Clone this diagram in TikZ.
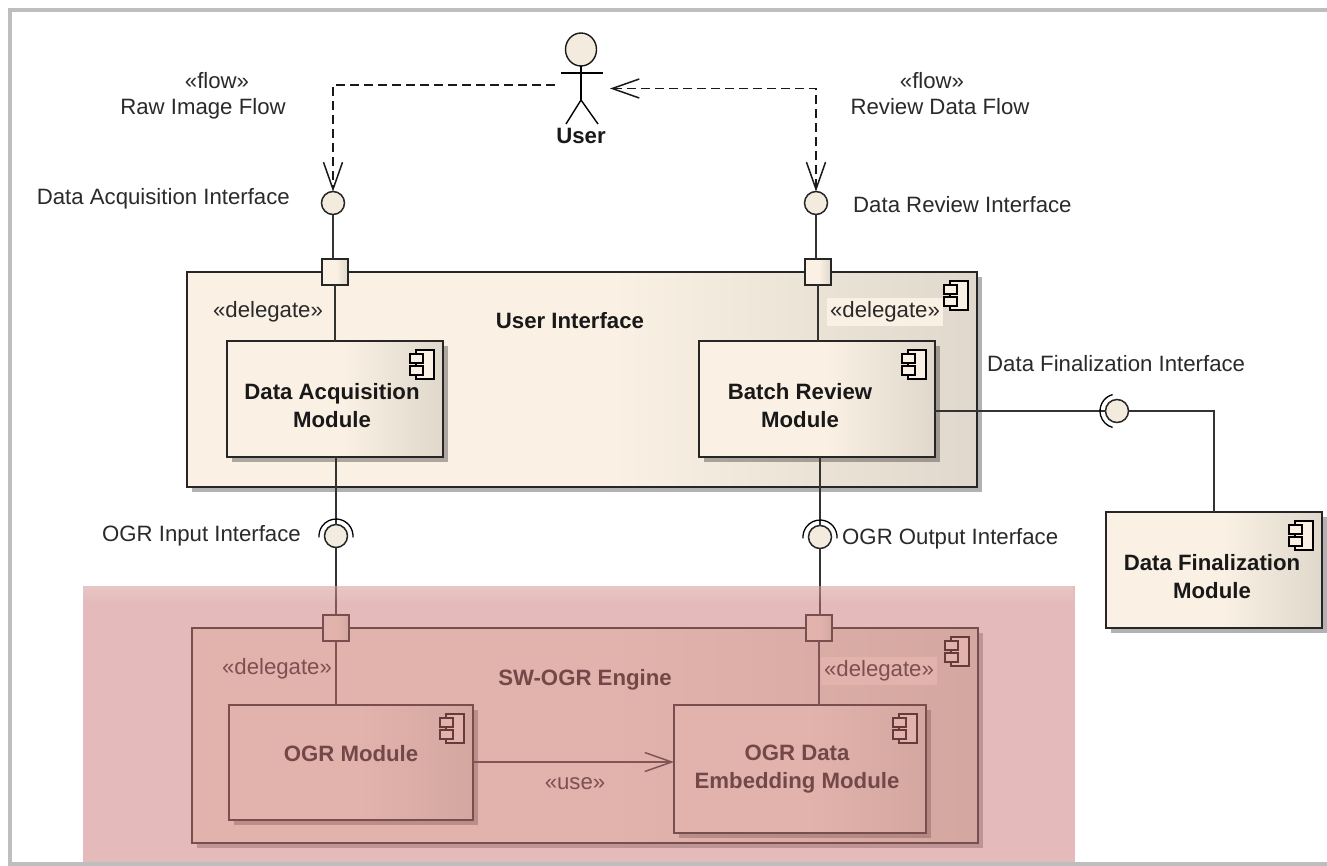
\documentclass[tikz,border=0pt]{standalone}
\usepackage{fontspec}
\setmainfont{Liberation Sans}
\usetikzlibrary{arrows.meta,shapes.geometric,shadows,fadings}
\definecolor{beige}{HTML}{FAF0E4}
\definecolor{beigedark}{HTML}{E0D8CC}
\definecolor{beigeface}{HTML}{F4EBDF}
\definecolor{inklabel}{HTML}{2A2A2A}
\definecolor{framegray}{HTML}{BEBEBE}
\definecolor{veilred}{HTML}{CB7777}
\pgfdeclarehorizontalshading{compshade}{100bp}{color(0bp)=(beige); color(52bp)=(beige); color(75bp)=(beigedark); color(100bp)=(beigedark)}
\tikzset{
  comp/.style={draw=black!85,line width=1.7pt,shading=compshade,inner sep=0pt,outer sep=0pt,
    drop shadow={shadow xshift=5pt,shadow yshift=-5pt,opacity=.3,fill=black}},
  port/.style={draw=black!85,line width=1.5pt,shading=compshade,minimum size=26pt,inner sep=0pt,outer sep=0pt},
  iface/.style={circle,draw=black!85,line width=1.5pt,fill=beigeface,minimum size=23pt,inner sep=0pt,outer sep=0pt},
  lbl/.style={font=\fontsize{22.2}{26}\selectfont,text=inklabel,inner sep=0pt},
  title/.style={font=\fontsize{22.2}{28}\selectfont\bfseries,text=black!90,align=center,inner sep=0pt},
  conn/.style={line width=1.5pt,draw=black!80},
  flowline/.style={line width=1.7pt,draw=black!90,dash pattern=on 9pt off 5pt},
  opentip/.style={-{Straight Barb[length=27pt,width=19pt,line width=1.5pt]}},
  bothtips/.style={{Straight Barb[length=27pt,width=19pt,line width=1.5pt]}-{Straight Barb[length=27pt,width=19pt,line width=1.5pt]}}
}
\begin{document}
\begin{tikzpicture}[x=1pt,y=-1pt]
    \useasboundingbox (0,0) rectangle (1327,865);
    \fill[white] (0,0) rectangle (1327,865);
    \draw[framegray,line width=3.2pt] (1327,10) -- (10,10) -- (10,864) -- (1327,864);

    % containers and modules
    \node[comp,minimum width=790pt,minimum height=215pt] (userif) at (582,379.5) {};
    \node[comp,minimum width=216pt,minimum height=116pt] (acqmodule) at (335,399) {};
    \node[comp,minimum width=236pt,minimum height=116pt] (reviewmodule) at (817,399) {};
    \node[comp,minimum width=216pt,minimum height=116pt] (finmodule) at (1214,570) {};
    \node[comp,minimum width=786pt,minimum height=215pt] (engine) at (585,735.5) {};
    \node[comp,minimum width=244pt,minimum height=115pt] (ogrmodule) at (351,762.5) {};
    \node[comp,minimum width=252pt,minimum height=128pt] (embedmodule) at (800,769) {};

    \foreach \n in {userif,acqmodule,reviewmodule,finmodule,engine,ogrmodule,embedmodule}
    {
    \draw[line width=1.1pt,fill=beige] ([shift={(-27,9)}]\n.north east) rectangle ([shift={(-9,38)}]\n.north east);
    \draw[line width=1.1pt,fill=beige] ([shift={(-33,13)}]\n.north east) rectangle ([shift={(-20,22)}]\n.north east);
    \draw[line width=1.1pt,fill=beige] ([shift={(-33,25)}]\n.north east) rectangle ([shift={(-20,34)}]\n.north east);
    }

    % ports and interfaces
    \node[port] (acqport) at (335,272) {};
    \node[port] (reviewport) at (818,272) {};
    \node[port] (ogrport) at (336,628) {};
    \node[port] (embedport) at (819,628) {};
    \node[iface] (acqif) at (333,203) {};
    \node[iface] (reviewif) at (816,203) {};
    \node[iface] (ogrinif) at (336,536) {};
    \node[iface] (ogroutif) at (820,537) {};
    \node[iface] (finif) at (1117,411) {};

    \draw[conn] (acqif) -- (acqif |- acqport.north);
    \draw[conn] (reviewif) -- (reviewif |- reviewport.north);
    \draw[conn] (acqport.south) -- (acqport |- acqmodule.north);
    \draw[conn] (reviewport.south) -- (reviewport |- reviewmodule.north);
    \draw[conn] (ogrinif.north) -- (ogrinif |- acqmodule.south);
    \draw[conn] (ogroutif.north) -- (ogroutif |- reviewmodule.south);
    \draw[conn] (ogrinif.south) -- (ogrinif |- ogrport.north);
    \draw[conn] (ogroutif.south) -- (ogroutif |- embedport.north);
    \draw[conn] (ogrport.south) -- (ogrport |- ogrmodule.north);
    \draw[conn] (embedport.south) -- (embedport |- embedmodule.north);
    \draw[conn] (finif.west) -- (finif -| reviewmodule.east);
    \draw[conn] (finif.east) -| (finmodule.north);
    \draw[conn,opentip] (ogrmodule.east |- embedmodule.west) ++(0,-7) -- ([yshift=7pt]embedmodule.west);

    % sockets
    \foreach \n in {ogrinif,ogroutif}
    \draw[line width=1.3pt] ([shift={(-5:17pt)}]\n.center) arc[start angle=-5,end angle=185,radius=17pt];
    \draw[line width=1.3pt] ([shift={(105:17pt)}]finif.center) arc[start angle=105,end angle=255,radius=17pt];

    % actor
    \node[ellipse,draw=black!90,line width=1.4pt,fill=beigeface,minimum width=31pt,minimum height=33pt,inner sep=0pt,outer sep=0pt] (userhead) at (581,49.5) {};
    \coordinate (hip) at (581,100);
    \coordinate (armleft) at (561,73);
    \coordinate (armright) at (603,73);
    \coordinate (legleft) at (566,124);
    \coordinate (legright) at (598,124);
    \draw[line width=1.4pt] (userhead.south) -- (hip);
    \draw[line width=1.4pt] (armleft) -- (armright);
    \draw[line width=1.4pt] (legleft) -- (hip) -- (legright);
    \node[title] (usertext) at (581,136) {User};

    % flows
    \coordinate (flowstart) at (555,85);
    \coordinate (flowend) at (610,88.5);
    \draw[flowline,opentip] (flowstart) -| (acqif.north);
    \draw[flowline,line width=1.4pt,bothtips] (reviewif.north) |- (flowend);

    % texts
    \node[lbl] (rawstereo) at (217,81) {«flow»};
    \node[lbl] (rawlabel) at (203,109) {Raw Image Flow};
    \node[lbl] (reviewstereo) at (932,81) {«flow»};
    \node[lbl] (reviewlabel) at (940,107) {Review Data Flow};
    \node[lbl,anchor=east] (acqlabel) at (290,199) {Data Acquisition Interface};
    \node[lbl,anchor=west] (reviewiflabel) at (853,205) {Data Review Interface};
    \node[lbl,anchor=west] (finlabel) at (987,364) {Data Finalization Interface};
    \node[lbl,anchor=east] (ogrinlabel) at (301,536) {OGR Input Interface};
    \node[lbl,anchor=west] (ogroutlabel) at (842,539) {OGR Output Interface};
    \node[lbl] (acqdelegate) at (268,312) {«delegate»};
    \node[lbl,fill=beige,inner xsep=3pt,inner ysep=4pt] (reviewdelegate) at (885,312) {«delegate»};
    \node[lbl] (ogrdelegate) at (277,669) {«delegate»};
    \node[lbl,fill=beige,inner xsep=3pt,inner ysep=4pt] (embeddelegate) at (879,671) {«delegate»};
    \node[lbl] (uselabel) at (575,784) {«use»};
    \node[title] (userifname) at (570,321) {User Interface};
    \node[title] (enginename) at (585,680) {SW-OGR Engine};
    \node[title] (acqname) at (332,406) {Data Acquisition\\Module};
    \node[title] (reviewname) at (800,406) {Batch Review\\Module};
    \node[title] (finname) at (1212,577) {Data Finalization\\Module};
    \node[title] (ogrname) at (351,754) {OGR Module};
    \node[title] (embedname) at (797,769) {OGR Data\\Embedding Module};

    % red veil over the engine
    \fill[veilred,opacity=.5] (83,586) rectangle (1075,862);
    \fill[white,opacity=.18,path fading=south] (83,586) rectangle (1075,604);
  \end{tikzpicture}
\end{document}
